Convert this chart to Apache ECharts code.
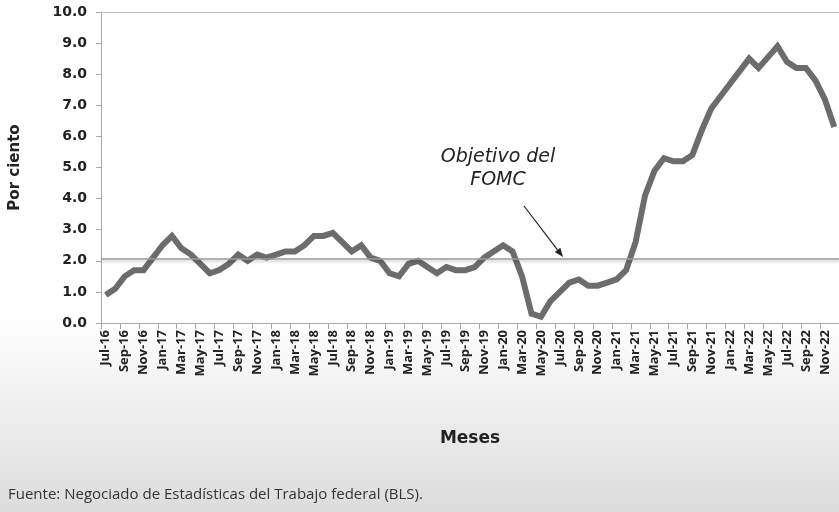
<!DOCTYPE html>
<html>
<head>
<meta charset="utf-8">
<script src="https://cdn.jsdelivr.net/npm/echarts@6/dist/echarts.min.js"></script>
<style>
html,body{margin:0;padding:0;}
#chart{width:839px;height:512px;}
</style>
</head>
<body>
<div id="chart"></div>
<script>
var months = [
 'Jul-16','Aug-16','Sep-16','Oct-16','Nov-16','Dec-16',
 'Jan-17','Feb-17','Mar-17','Apr-17','May-17','Jun-17','Jul-17','Aug-17','Sep-17','Oct-17','Nov-17','Dec-17',
 'Jan-18','Feb-18','Mar-18','Apr-18','May-18','Jun-18','Jul-18','Aug-18','Sep-18','Oct-18','Nov-18','Dec-18',
 'Jan-19','Feb-19','Mar-19','Apr-19','May-19','Jun-19','Jul-19','Aug-19','Sep-19','Oct-19','Nov-19','Dec-19',
 'Jan-20','Feb-20','Mar-20','Apr-20','May-20','Jun-20','Jul-20','Aug-20','Sep-20','Oct-20','Nov-20','Dec-20',
 'Jan-21','Feb-21','Mar-21','Apr-21','May-21','Jun-21','Jul-21','Aug-21','Sep-21','Oct-21','Nov-21','Dec-21',
 'Jan-22','Feb-22','Mar-22','Apr-22','May-22','Jun-22','Jul-22','Aug-22','Sep-22','Oct-22','Nov-22','Dec-22'
];
var inflation = [
 0.9,1.1,1.5,1.7,1.7,2.1,
 2.5,2.8,2.4,2.2,1.9,1.6,1.7,1.9,2.2,2.0,2.2,2.1,
 2.2,2.3,2.3,2.5,2.8,2.8,2.9,2.6,2.3,2.5,2.1,2.0,
 1.6,1.5,1.9,2.0,1.8,1.6,1.8,1.7,1.7,1.8,2.1,2.3,
 2.5,2.3,1.5,0.3,0.2,0.7,1.0,1.3,1.4,1.2,1.2,1.3,
 1.4,1.7,2.6,4.1,4.9,5.3,5.2,5.2,5.4,6.2,6.9,7.3,
 7.7,8.1,8.5,8.2,8.55,8.9,8.4,8.2,8.2,7.8,7.2,6.3
];
var fomcTarget = 2.05;
var yTicks = [0,1,2,3,4,5,6,7,8,9,10];
var annotationLines = ['Objetivo del', 'FOMC'];
var sourceText = 'Fuente: Negociado de Estadísticas del Trabajo federal (BLS).';

var chart = echarts.init(document.getElementById('chart'), null, {renderer:'canvas'});

// arrow geometry (annotation)
var ax0 = 524, ay0 = 206, ax1 = 563, ay1 = 257;
var ang = Math.atan2(ay1 - ay0, ax1 - ax0);
var hl = 9, hw = 3.5;
var bx = ax1 - hl * Math.cos(ang), by = ay1 - hl * Math.sin(ang);
var head = [
  [ax1, ay1],
  [bx + hw * Math.sin(ang), by - hw * Math.cos(ang)],
  [bx - hw * Math.sin(ang), by + hw * Math.cos(ang)]
];

var option = {
  animation: false,
  backgroundColor: {
    type: 'linear', x: 0, y: 0, x2: 0, y2: 1,
    colorStops: [
      {offset: 0, color: '#ffffff'},
      {offset: 0.62, color: '#ffffff'},
      {offset: 1, color: '#dcdcdc'}
    ]
  },
  grid: {left: 96, top: 12, width: 749, height: 311, containLabel: false},
  xAxis: {
    type: 'category',
    data: months,
    boundaryGap: true,
    name: 'Meses',
    nameLocation: 'middle',
    nameGap: 107,
    nameTextStyle: {fontFamily: 'DejaVu Sans', fontWeight: 'bold', fontSize: 17, color: '#222'},
    axisLine: {lineStyle: {color: '#a8a8a8', width: 1}},
    axisTick: {show: true, interval: 1, length: 6, lineStyle: {color: '#a8a8a8'}},
    axisLabel: {
      interval: 1, rotate: 90, margin: 7,
      fontFamily: 'Open Sans', fontWeight: 'bold', fontSize: 13, color: '#222'
    },
    splitLine: {show: false}
  },
  yAxis: {
    type: 'value',
    min: 0, max: 10, interval: 1,
    name: 'Por ciento',
    nameLocation: 'middle',
    nameGap: 78,
    nameRotate: 90,
    nameTextStyle: {fontFamily: 'DejaVu Sans', fontWeight: 'bold', fontSize: 15, color: '#222'},
    axisLine: {show: true, lineStyle: {color: '#a8a8a8', width: 1}},
    axisTick: {show: true, length: 5, lineStyle: {color: '#a8a8a8'}},
    axisLabel: {
      margin: 14,
      fontFamily: 'DejaVu Sans', fontWeight: 'bold', fontSize: 14, color: '#222',
      formatter: function (v) { return v.toFixed(1); }
    },
    splitLine: {show: false}
  },
  series: [
    {
      type: 'line',
      data: inflation,
      symbol: 'none',
      lineStyle: {color: '#6c6c6c', width: 6, join: 'miter'},
      z: 3,
      markLine: {
        silent: true,
        symbol: ['none', 'none'],
        label: {show: false},
        animation: false,
        data: [
          {yAxis: fomcTarget, lineStyle: {color: '#9a9a9a', width: 1.5, type: 'solid',
            shadowColor: 'rgba(0,0,0,0.25)', shadowBlur: 3, shadowOffsetY: 2}},
          {yAxis: yTicks[yTicks.length - 1], lineStyle: {color: '#bdbdbd', width: 1, type: 'solid'}}
        ]
      }
    }
  ],
  graphic: [
    {
      type: 'text', left: 8, top: 487,
      style: {text: sourceText, fontFamily: 'Open Sans', fontSize: 15, fill: '#333'}
    },
    {
      type: 'text', x: 498, y: 169,
      style: {
        text: annotationLines.join('\n'),
        fontFamily: 'DejaVu Sans', fontStyle: 'italic', fontSize: 19, lineHeight: 23,
        fill: '#222', textAlign: 'center', textVerticalAlign: 'middle'
      }
    },
    {
      type: 'line',
      shape: {x1: ax0, y1: ay0, x2: bx, y2: by},
      style: {stroke: '#222', lineWidth: 1.2}
    },
    {
      type: 'polygon',
      shape: {points: head},
      style: {fill: '#222'}
    }
  ]
};
chart.setOption(option);
</script>
</body>
</html>
